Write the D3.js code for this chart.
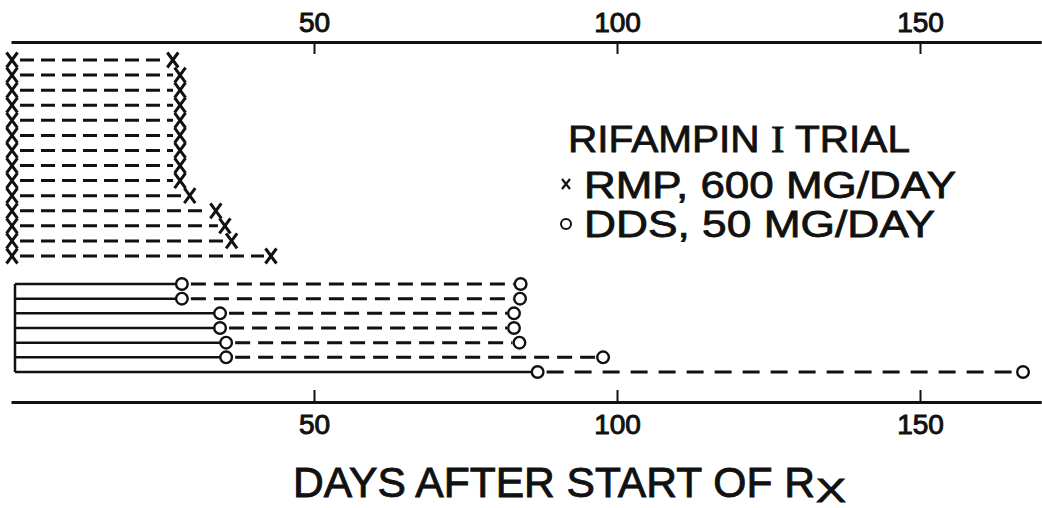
<!DOCTYPE html>
<html>
<head>
<meta charset="utf-8">
<script src="https://cdn.jsdelivr.net/npm/d3@7"></script>
<style>
  html, body { margin: 0; padding: 0; background: #fff; }
  svg { display: block; }
  text { font-family: "Liberation Sans", Arial, sans-serif; fill: #111; }
</style>
</head>
<body>
<svg id="chart" width="1042" height="508"></svg>
<script>
// ---- data (days after start of treatment) ----
const rmpRows   = d3.range(14);
const rmpEnd    = [26.7, 27.9, 27.9, 27.9, 27.9, 27.9, 27.9, 27.9, 27.9, 29.5, 33.8, 35.3, 36.4, 42.9];
const ddsRows   = d3.range(7);
const ddsStart  = [28.2, 28.2, 34.5, 34.5, 35.5, 35.5, 86.9];
const ddsEnd    = [84.1, 84.0, 83.0, 83.0, 83.9, 97.7, 167.0];
const tickVals  = [50, 100, 150];
const titleParts = ["RIFAMPIN ", "I", " TRIAL"];
const legendLabels = ["RMP, 600 MG/DAY", "DDS, 50 MG/DAY"];
const axisTitle = "DAYS AFTER START OF R";
const axisSub = "X";

const svg = d3.select("#chart");
const ink = "#111";

const x = d3.scaleLinear().domain([0, 170]).range([11, 11 + 170 * 6.06]);
const yR = d3.scaleLinear().domain([0, 13]).range([60, 256]);
const yD = d3.scaleLinear().domain([0, 6]).range([284, 372]);

// ---- axes ----
const topAxis = d3.axisTop(x).tickValues(tickVals).tickSizeInner(-12).tickSizeOuter(0).tickPadding(10);
const botAxis = d3.axisBottom(x).tickValues(tickVals).tickSizeInner(-12).tickSizeOuter(0).tickPadding(12);

function styleAxis(g) {
  g.select(".domain").attr("stroke", ink).attr("stroke-width", 3);
  g.selectAll(".tick line").attr("stroke", ink).attr("stroke-width", 2);
  g.selectAll(".tick text").attr("fill", ink)
    .attr("stroke", ink).attr("stroke-width", 1)
    .style("font-family", "'Liberation Sans', Arial, sans-serif")
    .style("font-size", "28px").style("font-weight", "normal");
}
svg.append("g").attr("transform", "translate(0,42)").call(topAxis).call(styleAxis);
svg.append("g").attr("transform", "translate(0,402)").call(botAxis).call(styleAxis);

// ---- markers ----
function xMark(g, cx, cy, w, h, sw) {
  g.append("path")
    .attr("d", `M${cx - w/2},${cy - h/2}L${cx + w/2},${cy + h/2}M${cx + w/2},${cy - h/2}L${cx - w/2},${cy + h/2}`)
    .attr("stroke", ink).attr("stroke-width", sw).attr("fill", "none");
}

// ---- RMP rows ----
const gR = svg.append("g");
gR.selectAll("line.rd").data(rmpRows).join("line")
  .attr("x1", d => x(0) + 9).attr("x2", d => x(rmpEnd[d]) - 7)
  .attr("y1", d => yR(d)).attr("y2", d => yR(d))
  .attr("stroke", ink).attr("stroke-width", 3).attr("stroke-dasharray", "14,7");
rmpRows.forEach(d => {
  xMark(gR, x(0) + 1, yR(d), 11, 15, 3);
  xMark(gR, x(rmpEnd[d]), yR(d), 11, 15, 3);
});

// ---- DDS rows ----
const gD = svg.append("g");
gD.append("line")
  .attr("x1", x(0) + 4).attr("x2", x(0) + 4)
  .attr("y1", yD(0)).attr("y2", yD(6))
  .attr("stroke", ink).attr("stroke-width", 2.5);
gD.selectAll("line.ds").data(ddsRows).join("line")
  .attr("x1", x(0) + 4).attr("x2", d => x(ddsStart[d]) - 6)
  .attr("y1", d => yD(d)).attr("y2", d => yD(d))
  .attr("stroke", ink).attr("stroke-width", 2.5);
gD.selectAll("line.dd").data(ddsRows).join("line")
  .attr("x1", d => x(ddsStart[d]) + 9).attr("x2", d => x(ddsEnd[d]) - 7)
  .attr("y1", d => yD(d)).attr("y2", d => yD(d))
  .attr("stroke", ink).attr("stroke-width", 3)
  .attr("stroke-dasharray", d => d === 6 ? "17,11" : "15,8");
gD.selectAll("circle.s").data(ddsRows).join("circle")
  .attr("cx", d => x(ddsStart[d])).attr("cy", d => yD(d)).attr("r", 5.8)
  .attr("fill", "#fff").attr("stroke", ink).attr("stroke-width", 2.4);
gD.selectAll("circle.e").data(ddsRows).join("circle")
  .attr("cx", d => x(ddsEnd[d])).attr("cy", d => yD(d)).attr("r", 5.8)
  .attr("fill", "#fff").attr("stroke", ink).attr("stroke-width", 2.4);

// ---- legend ----
const lg = svg.append("g");
const t0 = lg.append("text").attr("x", 568).attr("y", 152)
  .style("font-size", "37px").attr("stroke", ink).attr("stroke-width", 0.8)
  .attr("textLength", 342).attr("lengthAdjust", "spacingAndGlyphs");
t0.append("tspan").text(titleParts[0]);
t0.append("tspan").text(titleParts[1]).style("font-family", "'Liberation Serif', 'DejaVu Serif', serif");
t0.append("tspan").text(titleParts[2]);
xMark(lg, 566, 184, 8, 10, 2.2);
lg.append("text").attr("x", 584).attr("y", 198).text(legendLabels[0])
  .style("font-size", "37px").attr("stroke", ink).attr("stroke-width", 0.8)
  .attr("textLength", 372).attr("lengthAdjust", "spacingAndGlyphs");
lg.append("circle").attr("cx", 566).attr("cy", 224).attr("r", 5)
  .attr("fill", "#fff").attr("stroke", ink).attr("stroke-width", 2);
lg.append("text").attr("x", 584).attr("y", 237).text(legendLabels[1])
  .style("font-size", "37px").attr("stroke", ink).attr("stroke-width", 0.8)
  .attr("textLength", 351).attr("lengthAdjust", "spacingAndGlyphs");

// ---- axis title ----
svg.append("text").attr("x", 293).attr("y", 497).text(axisTitle)
  .style("font-size", "42px").attr("stroke", ink).attr("stroke-width", 0.9)
  .attr("textLength", 522).attr("lengthAdjust", "spacingAndGlyphs");
svg.append("text").attr("x", 816).attr("y", 502).text(axisSub)
  .style("font-size", "34px").attr("stroke", ink).attr("stroke-width", 0.9)
  .attr("textLength", 30).attr("lengthAdjust", "spacingAndGlyphs");
</script>
</body>
</html>
